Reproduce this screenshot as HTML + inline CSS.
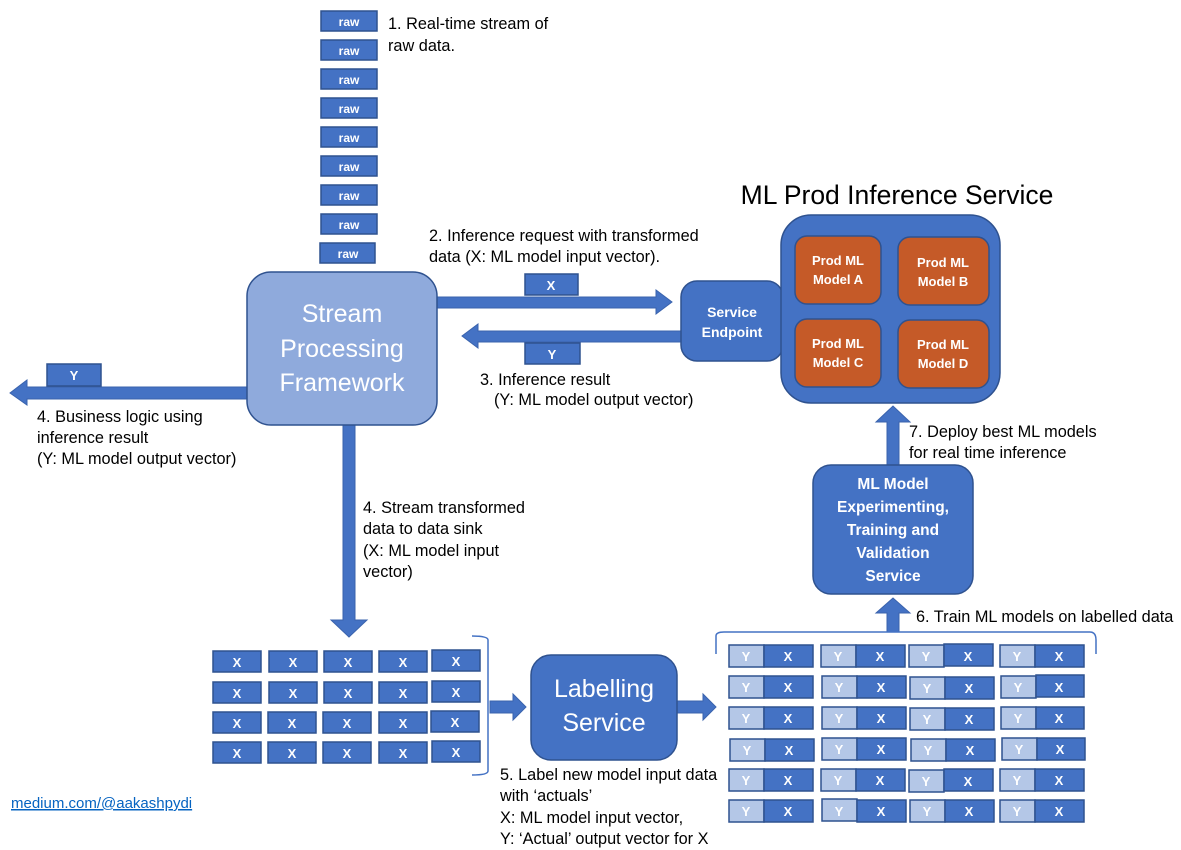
<!DOCTYPE html>
<html><head><meta charset="utf-8"><style>
html,body{margin:0;padding:0;background:#fff}
svg{display:block}
text{font-family:"Liberation Sans",sans-serif}
.t{font-size:16.3px;fill:#000}
.w{fill:#fff;font-weight:bold;text-anchor:middle}
.n{fill:#fff;font-weight:normal;text-anchor:middle;font-size:25px}
.b{fill:#4472c4;stroke:#2f528f;stroke-width:1.5}
.l{fill:#b4c7e7;stroke:#2f528f;stroke-width:1.5}
.a{fill:#4472c4;stroke:#3a63ad;stroke-width:1}
</style></head><body>
<svg width="1181" height="850" viewBox="0 0 1181 850" xmlns="http://www.w3.org/2000/svg">
<g font-size="12">
<rect class="b" x="321" y="11" width="56" height="20"/><text class="w" x="349" y="26" font-size="12">raw</text>
<rect class="b" x="321" y="40" width="56" height="20"/><text class="w" x="349" y="55" font-size="12">raw</text>
<rect class="b" x="321" y="69" width="56" height="20"/><text class="w" x="349" y="84" font-size="12">raw</text>
<rect class="b" x="321" y="98" width="56" height="20"/><text class="w" x="349" y="113" font-size="12">raw</text>
<rect class="b" x="321" y="127" width="56" height="20"/><text class="w" x="349" y="142" font-size="12">raw</text>
<rect class="b" x="321" y="156" width="56" height="20"/><text class="w" x="349" y="171" font-size="12">raw</text>
<rect class="b" x="321" y="185" width="56" height="20"/><text class="w" x="349" y="200" font-size="12">raw</text>
<rect class="b" x="321" y="214" width="56" height="20"/><text class="w" x="349" y="229" font-size="12">raw</text>
<rect class="b" x="320" y="243" width="55" height="20"/><text class="w" x="348" y="258" font-size="12">raw</text>
</g>
<text class="t" x="388" y="29">1. Real-time stream of</text>
<text class="t" x="388" y="51">raw data.</text>

<polygon class="a" points="437,297 656,297 656,290 672,302 656,314 656,308 437,308"/>
<polygon class="a" points="681,331 478,331 478,324 462,336 478,348 478,342 681,342"/>
<polygon class="a" points="248,387 27,387 27,380 10,393 27,405 27,399 248,399"/>
<polygon class="a" points="343,425 355,425 355,620 367,620 349,637 331,620 343,620"/>
<polygon class="a" points="490,701 513,701 513,694 526,707 513,720 513,713 490,713"/>
<polygon class="a" points="677,701 703,701 703,694 716,707 703,720 703,713 677,713"/>
<polygon class="a" points="887,632 899,632 899,613 910,613 893,598 876,613 887,613"/>
<polygon class="a" points="887,466 899,466 899,422 910,422 893,406 876,422 887,422"/>

<rect x="247" y="272" width="190" height="153" rx="24" fill="#8faadc" stroke="#2f528f" stroke-width="1.5"/>
<text class="n" x="342" y="322">Stream</text>
<text class="n" x="342" y="357">Processing</text>
<text class="n" x="342" y="391">Framework</text>

<rect class="b" x="525" y="274" width="53" height="21"/><text class="w" x="551" y="290" font-size="13">X</text>
<rect class="b" x="525" y="343" width="55" height="21"/><text class="w" x="552" y="359" font-size="13">Y</text>
<rect class="b" x="47" y="364" width="54" height="22"/><text class="w" x="74" y="380" font-size="13">Y</text>

<text class="t" x="429" y="241">2. Inference request with transformed</text>
<text class="t" x="429" y="262">data (X: ML model input vector).</text>
<text class="t" x="480" y="385">3. Inference result</text>
<text class="t" x="494" y="405">(Y: ML model output vector)</text>
<text class="t" x="37" y="422">4. Business logic using</text>
<text class="t" x="37" y="443">inference result</text>
<text class="t" x="37" y="464">(Y: ML model output vector)</text>
<text class="t" x="363" y="513">4. Stream transformed</text>
<text class="t" x="363" y="534">data to data sink</text>
<text class="t" x="363" y="556">(X: ML model input</text>
<text class="t" x="363" y="577">vector)</text>

<rect class="b" x="681" y="281" width="102" height="80" rx="16"/>
<text class="w" x="732" y="317" font-size="14">Service</text>
<text class="w" x="732" y="337" font-size="14">Endpoint</text>

<text x="897" y="204" font-size="26.5" text-anchor="middle" fill="#000">ML Prod Inference Service</text>
<rect x="781" y="215" width="219" height="188" rx="30" fill="#4472c4" stroke="#2f528f" stroke-width="1.5"/>
<g fill="#c55a28" stroke="#2f528f" stroke-width="1.5">
<rect x="795" y="236" width="86" height="68" rx="12"/>
<rect x="898" y="237" width="91" height="68" rx="12"/>
<rect x="795" y="319" width="86" height="68" rx="12"/>
<rect x="898" y="320" width="91" height="68" rx="12"/>
</g>
<g font-size="13">
<text class="w" x="838" y="265">Prod ML</text><text class="w" x="838" y="284">Model A</text>
<text class="w" x="943" y="267">Prod ML</text><text class="w" x="943" y="286">Model B</text>
<text class="w" x="838" y="348">Prod ML</text><text class="w" x="838" y="367">Model C</text>
<text class="w" x="943" y="349">Prod ML</text><text class="w" x="943" y="368">Model D</text>
</g>
<text class="t" x="909" y="437">7. Deploy best ML models</text>
<text class="t" x="909" y="458">for real time inference</text>

<rect class="b" x="813" y="465" width="160" height="129" rx="18"/>
<g font-size="15.5">
<text class="w" x="893" y="489">ML Model</text>
<text class="w" x="893" y="512">Experimenting,</text>
<text class="w" x="893" y="535">Training and</text>
<text class="w" x="893" y="558">Validation</text>
<text class="w" x="893" y="581">Service</text>
</g>
<text class="t" x="916" y="622">6. Train ML models on labelled data</text>

<g>
<rect class="b" x="213" y="651" width="48" height="21"/><rect class="b" x="269" y="651" width="48" height="21"/><rect class="b" x="324" y="651" width="48" height="21"/><rect class="b" x="379" y="651" width="48" height="21"/><rect class="b" x="432" y="650" width="48" height="21"/>
<rect class="b" x="213" y="682" width="48" height="21"/><rect class="b" x="269" y="682" width="48" height="21"/><rect class="b" x="324" y="682" width="48" height="21"/><rect class="b" x="379" y="682" width="48" height="21"/><rect class="b" x="432" y="681" width="48" height="21"/>
<rect class="b" x="213" y="712" width="48" height="21"/><rect class="b" x="268" y="712" width="48" height="21"/><rect class="b" x="323" y="712" width="48" height="21"/><rect class="b" x="379" y="712" width="48" height="21"/><rect class="b" x="431" y="711" width="48" height="21"/>
<rect class="b" x="213" y="742" width="48" height="21"/><rect class="b" x="268" y="742" width="48" height="21"/><rect class="b" x="323" y="742" width="48" height="21"/><rect class="b" x="379" y="742" width="48" height="21"/><rect class="b" x="432" y="741" width="48" height="21"/>
</g>
<g font-size="13">
<text class="w" x="237" y="667">X</text><text class="w" x="293" y="667">X</text><text class="w" x="348" y="667">X</text><text class="w" x="403" y="667">X</text><text class="w" x="456" y="666">X</text>
<text class="w" x="237" y="698">X</text><text class="w" x="293" y="698">X</text><text class="w" x="348" y="698">X</text><text class="w" x="403" y="698">X</text><text class="w" x="456" y="697">X</text>
<text class="w" x="237" y="728">X</text><text class="w" x="292" y="728">X</text><text class="w" x="347" y="728">X</text><text class="w" x="403" y="728">X</text><text class="w" x="455" y="727">X</text>
<text class="w" x="237" y="758">X</text><text class="w" x="292" y="758">X</text><text class="w" x="347" y="758">X</text><text class="w" x="403" y="758">X</text><text class="w" x="456" y="757">X</text>
</g>
<path d="M472,636 Q488,636 488,640 L488,771 Q488,775 472,775" fill="none" stroke="#4472c4" stroke-width="1.5"/>
<text class="t" x="500" y="780">5. Label new model input data</text>
<text class="t" x="500" y="801">with ‘actuals’</text>
<text class="t" x="500" y="823">X: ML model input vector,</text>
<text class="t" x="500" y="844">Y: ‘Actual’ output vector for X</text>

<rect class="b" x="531" y="655" width="146" height="105" rx="20"/>
<text class="n" x="604" y="697">Labelling</text>
<text class="n" x="604" y="731">Service</text>

<path d="M716,654 L716,636 Q716,632 724,632 L1090,632 Q1096,632 1096,640 L1096,654" fill="none" stroke="#4472c4" stroke-width="1.5"/>
<g font-size="13">
<rect class="l" x="729" y="645" width="35" height="22"/><rect class="b" x="764" y="645" width="49" height="22"/><text class="w" x="746" y="661">Y</text><text class="w" x="788" y="661">X</text>
<rect class="l" x="821" y="645" width="35" height="22"/><rect class="b" x="856" y="645" width="49" height="22"/><text class="w" x="838" y="661">Y</text><text class="w" x="880" y="661">X</text>
<rect class="l" x="909" y="645" width="35" height="22"/><rect class="b" x="944" y="644" width="49" height="22"/><text class="w" x="926" y="661">Y</text><text class="w" x="968" y="661">X</text>
<rect class="l" x="1000" y="645" width="35" height="22"/><rect class="b" x="1035" y="645" width="49" height="22"/><text class="w" x="1017" y="661">Y</text><text class="w" x="1059" y="661">X</text>

<rect class="l" x="729" y="676" width="35" height="22"/><rect class="b" x="764" y="676" width="49" height="22"/><text class="w" x="746" y="692">Y</text><text class="w" x="788" y="692">X</text>
<rect class="l" x="822" y="676" width="35" height="22"/><rect class="b" x="857" y="676" width="49" height="22"/><text class="w" x="839" y="692">Y</text><text class="w" x="881" y="692">X</text>
<rect class="l" x="910" y="677" width="35" height="22"/><rect class="b" x="945" y="677" width="49" height="22"/><text class="w" x="927" y="693">Y</text><text class="w" x="969" y="693">X</text>
<rect class="l" x="1001" y="676" width="35" height="22"/><rect class="b" x="1036" y="675" width="48" height="22"/><text class="w" x="1018" y="692">Y</text><text class="w" x="1059" y="692">X</text>

<rect class="l" x="729" y="707" width="35" height="22"/><rect class="b" x="764" y="707" width="49" height="22"/><text class="w" x="746" y="723">Y</text><text class="w" x="788" y="723">X</text>
<rect class="l" x="822" y="707" width="35" height="22"/><rect class="b" x="857" y="707" width="49" height="22"/><text class="w" x="839" y="723">Y</text><text class="w" x="881" y="723">X</text>
<rect class="l" x="910" y="708" width="35" height="22"/><rect class="b" x="945" y="708" width="49" height="22"/><text class="w" x="927" y="724">Y</text><text class="w" x="969" y="724">X</text>
<rect class="l" x="1001" y="707" width="35" height="22"/><rect class="b" x="1036" y="707" width="48" height="22"/><text class="w" x="1018" y="723">Y</text><text class="w" x="1059" y="723">X</text>

<rect class="l" x="730" y="739" width="35" height="22"/><rect class="b" x="765" y="739" width="49" height="22"/><text class="w" x="747" y="755">Y</text><text class="w" x="789" y="755">X</text>
<rect class="l" x="822" y="738" width="35" height="22"/><rect class="b" x="857" y="738" width="49" height="22"/><text class="w" x="839" y="754">Y</text><text class="w" x="881" y="754">X</text>
<rect class="l" x="911" y="739" width="35" height="22"/><rect class="b" x="946" y="739" width="49" height="22"/><text class="w" x="928" y="755">Y</text><text class="w" x="970" y="755">X</text>
<rect class="l" x="1002" y="738" width="35" height="22"/><rect class="b" x="1037" y="738" width="48" height="22"/><text class="w" x="1019" y="754">Y</text><text class="w" x="1060" y="754">X</text>

<rect class="l" x="729" y="769" width="35" height="22"/><rect class="b" x="764" y="769" width="49" height="22"/><text class="w" x="746" y="785">Y</text><text class="w" x="788" y="785">X</text>
<rect class="l" x="821" y="769" width="35" height="22"/><rect class="b" x="856" y="769" width="49" height="22"/><text class="w" x="838" y="785">Y</text><text class="w" x="880" y="785">X</text>
<rect class="l" x="909" y="770" width="35" height="22"/><rect class="b" x="944" y="769" width="49" height="22"/><text class="w" x="926" y="786">Y</text><text class="w" x="968" y="786">X</text>
<rect class="l" x="1000" y="769" width="35" height="22"/><rect class="b" x="1035" y="769" width="49" height="22"/><text class="w" x="1017" y="785">Y</text><text class="w" x="1059" y="785">X</text>

<rect class="l" x="729" y="800" width="35" height="22"/><rect class="b" x="764" y="800" width="49" height="22"/><text class="w" x="746" y="816">Y</text><text class="w" x="788" y="816">X</text>
<rect class="l" x="822" y="799" width="35" height="22"/><rect class="b" x="857" y="800" width="49" height="22"/><text class="w" x="839" y="816">Y</text><text class="w" x="881" y="816">X</text>
<rect class="l" x="910" y="800" width="35" height="22"/><rect class="b" x="945" y="800" width="49" height="22"/><text class="w" x="927" y="816">Y</text><text class="w" x="969" y="816">X</text>
<rect class="l" x="1000" y="800" width="35" height="22"/><rect class="b" x="1035" y="800" width="49" height="22"/><text class="w" x="1017" y="816">Y</text><text class="w" x="1059" y="816">X</text>
</g>

<text x="11" y="808" font-size="15" fill="#0563c1" text-decoration="underline">medium.com/@aakashpydi</text>
</svg>
</body></html>
